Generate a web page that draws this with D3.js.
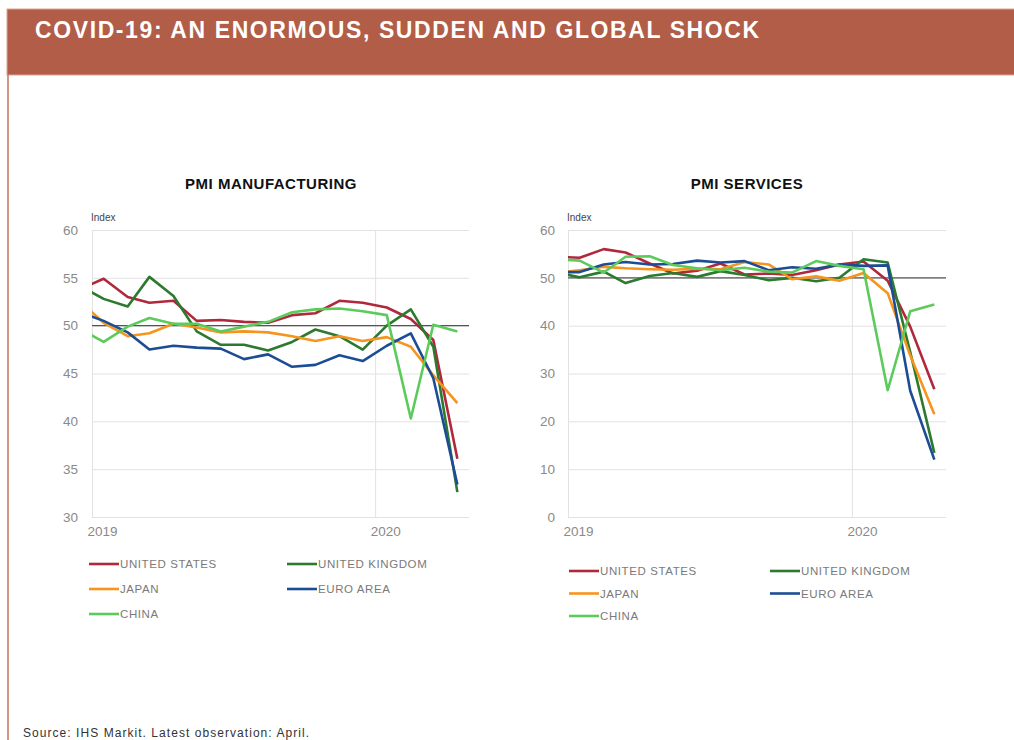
<!DOCTYPE html>
<html>
<head>
<meta charset="utf-8">
<script src="https://cdn.jsdelivr.net/npm/d3@7"></script>
<style>
body { margin: 0; background: #fff; font-family: "Liberation Sans", Arial, sans-serif; }
</style>
</head>
<body>
<svg id="chart" width="1014" height="740"></svg>
<script>
// monthly observations, Dec 2018 to Apr 2020 (Dec 2018 sits left of the axis and is clipped)
const months = ["2018-12", "2019-01", "2019-02", "2019-03", "2019-04", "2019-05", "2019-06", "2019-07",
    "2019-08", "2019-09", "2019-10", "2019-11", "2019-12", "2020-01", "2020-02", "2020-03", "2020-04"];

const seriesNames = ["UNITED STATES", "UNITED KINGDOM", "JAPAN", "EURO AREA", "CHINA"];
const seriesColors = ["#b0283c", "#2b7a2e", "#f7941d", "#1c4d94", "#5ccb5c"];

// PMI manufacturing
const usMfg = [53.8, 54.9, 53.0, 52.4, 52.6, 50.5, 50.6, 50.4, 50.3, 51.1, 51.3, 52.6, 52.4, 51.9, 50.7, 48.5, 36.1];
const ukMfg = [54.2, 52.8, 52.0, 55.1, 53.1, 49.4, 48.0, 48.0, 47.4, 48.3, 49.6, 48.9, 47.5, 50.0, 51.7, 47.8, 32.6];
const jpMfg = [52.6, 50.3, 48.9, 49.2, 50.2, 49.8, 49.3, 49.4, 49.3, 48.9, 48.4, 48.9, 48.4, 48.8, 47.8, 44.8, 41.9];
const euMfg = [51.4, 50.5, 49.3, 47.5, 47.9, 47.7, 47.6, 46.5, 47.0, 45.7, 45.9, 46.9, 46.3, 47.9, 49.2, 44.5, 33.4];
const cnMfg = [49.7, 48.3, 49.9, 50.8, 50.2, 50.2, 49.4, 49.9, 50.4, 51.4, 51.7, 51.8, 51.5, 51.1, 40.3, 50.1, 49.4];

// PMI services
const usSvc = [54.4, 54.2, 56.0, 55.3, 53.0, 50.9, 51.5, 53.0, 50.7, 50.9, 50.6, 51.6, 52.8, 53.4, 49.4, 39.8, 26.7];
const ukSvc = [51.2, 50.1, 51.3, 48.9, 50.4, 51.0, 50.2, 51.4, 50.6, 49.5, 50.0, 49.3, 50.0, 53.9, 53.2, 34.5, 13.4];
const jpSvc = [51.0, 51.6, 52.3, 52.0, 51.8, 51.7, 51.9, 51.8, 53.3, 52.8, 49.7, 50.3, 49.4, 51.0, 46.8, 33.8, 21.5];
const euSvc = [51.2, 51.2, 52.8, 53.3, 52.8, 52.9, 53.6, 53.2, 53.5, 51.6, 52.2, 51.9, 52.8, 52.5, 52.6, 26.4, 12.0];
const cnSvc = [53.9, 53.6, 51.1, 54.4, 54.5, 52.7, 52.0, 51.6, 52.1, 51.3, 51.1, 53.5, 52.5, 51.8, 26.5, 43.0, 44.4];

const mfgTicks = [30, 35, 40, 45, 50, 55, 60];
const svcTicks = [0, 10, 20, 30, 40, 50, 60];
const yearTicks = ["2019", "2020"];

const svg = d3.select("#chart");
const parseMonth = d3.timeParse("%Y-%m");
// plot each month at mid-month
const monthDates = months.map(m => d3.timeDay.offset(parseMonth(m), 15));

// header band
svg.append("rect")
    .attr("x", 7).attr("y", 9)
    .attr("width", 1010).attr("height", 66)
    .attr("fill", "#b15d47")
    .attr("stroke", "#dba697")
    .attr("stroke-width", 1);

svg.append("text")
    .attr("x", 35).attr("y", 38)
    .attr("fill", "#fff")
    .style("font-size", "23px")
    .style("font-weight", "bold")
    .style("letter-spacing", "1.6px")
    .text("COVID-19: AN ENORMOUS, SUDDEN AND GLOBAL SHOCK");

// left frame line
svg.append("line")
    .attr("x1", 8).attr("x2", 8)
    .attr("y1", 75).attr("y2", 740)
    .attr("stroke", "#c4735f")
    .attr("stroke-width", 1.5);

svg.append("text")
    .attr("x", 23).attr("y", 737)
    .attr("fill", "#333")
    .style("font-size", "12px")
    .style("letter-spacing", "1.05px")
    .text("Source: IHS Markit. Latest observation: April.");

function drawPanel(cfg) {
    const w = cfg.x1 - cfg.x0;
    const h = cfg.y1 - cfg.y0;
    const g = svg.append("g").attr("transform", `translate(${cfg.x0},${cfg.y0})`);

    const x = d3.scaleTime()
        .domain([parseMonth("2019-01"), parseMonth("2020-05")])
        .range([0, w]);
    const y = d3.scaleLinear()
        .domain(d3.extent(cfg.ticks))
        .range([h, 0]);

    // title
    svg.append("text")
        .attr("x", cfg.titleX).attr("y", 189)
        .attr("text-anchor", "middle")
        .attr("fill", "#111")
        .style("font-size", "15px")
        .style("font-weight", "bold")
        .style("letter-spacing", "0.5px")
        .text(cfg.title);

    g.append("text")
        .attr("x", -1).attr("y", -9)
        .attr("fill", "#444")
        .style("font-size", "10px")
        .text("Index");

    // horizontal grid + y labels
    const yAxis = g.append("g")
        .call(d3.axisLeft(y).tickValues(cfg.ticks).tickSize(-w).tickPadding(cfg.labelPad));
    yAxis.select(".domain").remove();
    yAxis.selectAll(".tick line").attr("stroke", "#e2e2e2");
    yAxis.selectAll(".tick text")
        .attr("fill", "#8a8a8a")
        .style("font-size", "13.5px")
        .style("font-family", "Liberation Sans, Arial, sans-serif");

    // vertical grid at years + labels
    const xAxis = g.append("g")
        .attr("transform", `translate(0,${h})`)
        .call(d3.axisBottom(x)
            .tickValues(yearTicks.map(d => d3.timeParse("%Y")(d)))
            .tickSize(-h)
            .tickFormat(d3.timeFormat("%Y")));
    xAxis.select(".domain").remove();
    xAxis.selectAll(".tick line").attr("stroke", "#e2e2e2");
    xAxis.selectAll(".tick text")
        .attr("text-anchor", "start")
        .attr("x", -5).attr("y", 14).attr("dy", "0.35em")
        .attr("fill", "#8a8a8a")
        .style("font-size", "13.5px")
        .style("font-family", "Liberation Sans, Arial, sans-serif");

    // 50 threshold
    g.append("line")
        .attr("x1", 0).attr("x2", w)
        .attr("y1", y(50)).attr("y2", y(50))
        .attr("stroke", "#555")
        .attr("stroke-width", 1.2);

    const clipId = "clip-" + cfg.id;
    g.append("clipPath").attr("id", clipId)
        .append("rect").attr("width", w).attr("height", h + 4).attr("y", -2);

    const line = d3.line()
        .x((d, i) => x(monthDates[i]))
        .y(d => y(d));

    g.append("g")
        .attr("clip-path", `url(#${clipId})`)
        .selectAll("path")
        .data(cfg.series)
        .join("path")
        .attr("fill", "none")
        .attr("stroke", (d, i) => seriesColors[i])
        .attr("stroke-width", 2.6)
        .attr("stroke-linejoin", "round")
        .attr("d", d => line(d));

    // legend: two columns, row-major
    const legend = svg.append("g");
    seriesNames.forEach((name, i) => {
        const col = i % 2, row = Math.floor(i / 2);
        const lx = cfg.legendX + col * cfg.legendColGap;
        const ly = cfg.legendY + row * cfg.legendRowGap;
        legend.append("line")
            .attr("x1", lx).attr("x2", lx + 30)
            .attr("y1", ly).attr("y2", ly)
            .attr("stroke", seriesColors[i])
            .attr("stroke-width", 2.6);
        legend.append("text")
            .attr("x", lx + 31).attr("y", ly).attr("dy", "0.36em")
            .attr("fill", "#7a7a7a")
            .style("font-size", "11.5px")
            .style("letter-spacing", "0.6px")
            .text(name);
    });
}

drawPanel({
    id: "mfg", title: "PMI MANUFACTURING", titleX: 271,
    x0: 92, x1: 469, y0: 230, y1: 517, ticks: mfgTicks, labelPad: 14,
    series: [usMfg, ukMfg, jpMfg, euMfg, cnMfg],
    legendX: 89, legendY: 564, legendColGap: 198, legendRowGap: 25
});

drawPanel({
    id: "svc", title: "PMI SERVICES", titleX: 747,
    x0: 568, x1: 946, y0: 230, y1: 517, ticks: svcTicks, labelPad: 13,
    series: [usSvc, ukSvc, jpSvc, euSvc, cnSvc],
    legendX: 569, legendY: 571, legendColGap: 201, legendRowGap: 22.5
});
</script>
</body>
</html>
